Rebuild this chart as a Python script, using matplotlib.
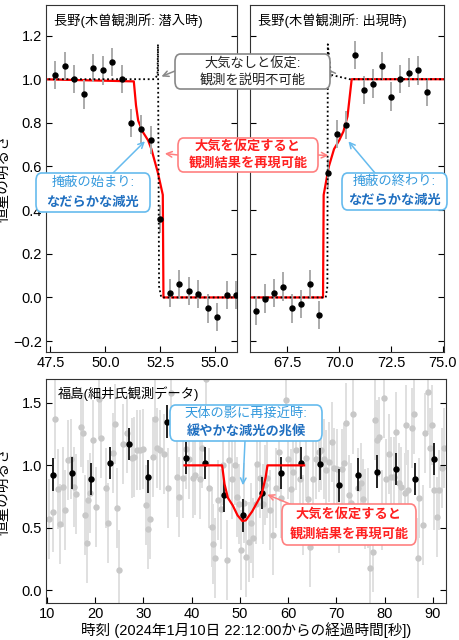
import matplotlib
matplotlib.use("Agg")
import matplotlib.pyplot as plt
from matplotlib.patches import FancyBboxPatch
import numpy as np

plt.rcParams['font.family'] = ['Liberation Sans', 'Noto Sans CJK JP', 'DejaVu Sans']

# ---- data: ingress (Kiso) ----
in_t = [47.71 + 0.435 * i for i in range(20)]
in_y = [1.02, 1.06, 1.0, 0.93, 1.05, 1.04, 1.08, 1.0, 0.80, 0.77, 0.72, 0.36,
        0.02, 0.06, 0.03, 0.015, -0.05, -0.09, 0.01, 0.01]
in_model_t = [47.0, 51.3, 51.4, 51.5, 51.7, 51.95, 52.1, 52.4, 52.62, 52.65, 56.5]
in_model_y = [1.0, 0.99, 0.88, 0.81, 0.76, 0.72, 0.68, 0.57, 0.47, 0.0, 0.0]
in_geo_t = [47.0, 52.25, 52.38, 52.40, 52.45, 52.55, 56.5]
in_geo_y = [1.0, 1.0, 1.02, 1.16, 0.05, 0.0, 0.0]

# ---- data: egress (Kiso) ----
eg_t = [65.98 + 0.435 * i for i in range(20)]
eg_y = [-0.06, -0.005, 0.02, 0.05, -0.05, -0.03, 0.06, -0.08, 0.57, 0.75, 0.79,
        1.11, 0.95, 0.98, 1.06, 0.92, 1.0, 1.03, 1.04, 0.94]
eg_model_t = [65.0, 69.22, 69.25, 69.5, 69.75, 70.0, 70.2, 70.4, 70.6, 76.0]
eg_model_y = [0.0, 0.0, 0.47, 0.6, 0.68, 0.72, 0.76, 0.83, 1.0, 1.0]
eg_geo_t = [65.0, 69.35, 69.43, 69.45, 69.6, 70.5, 76.0]
eg_geo_y = [0.0, 0.0, 0.05, 1.16, 1.02, 1.0, 1.0]

# ---- data: Fukushima ----
fk_t = [11.2 + 3.95 * i for i in range(21)]
fk_y = [0.925, 0.94, 0.89, 1.02, 1.17, 0.91, 1.35, 1.06, 1.02, 0.76, 0.60, 0.78,
        0.94, 1.02, 1.01, 0.84, 0.925, 0.95, 0.97, 0.89, 1.05]
fk_model_t = [38.5, 46.3, 46.8, 47.5, 48.5, 49.5, 50.5, 51.2, 52.5, 53.5, 54.5, 55.3, 55.7, 63.3]
fk_model_y = [1.0, 1.0, 0.85, 0.74, 0.68, 0.60, 0.555, 0.56, 0.63, 0.70, 0.77, 0.90, 1.0, 1.0]
raw_t = [10.4, 11.2, 11.7, 12.3, 12.8, 13.3, 13.8, 14.3, 14.9, 15.6, 16.1, 17.0, 17.4, 17.8,
         18.2, 18.6, 19.0, 19.6, 20.2, 20.8, 21.2, 22.3, 22.7, 23.6, 24.0, 24.5, 25.0, 25.8,
         26.5, 27.6, 28.1, 28.7, 29.2, 29.8, 30.5, 30.9, 31.3, 31.9, 32.4, 32.9, 33.4, 34.3,
         35.0, 35.8, 36.9, 37.4, 38.1, 38.8, 39.5, 40.2, 40.7, 41.7, 42.2, 42.9, 43.5, 44.1,
         44.4, 44.9, 45.5, 46.0, 46.5, 47.3, 47.8, 48.3, 48.9, 49.4, 49.9, 50.3, 50.9, 51.3,
         51.8, 52.2, 52.7, 53.3, 53.6, 54.2, 54.7, 55.2, 55.7, 56.3, 56.9, 57.4, 58.0, 58.6,
         59.6, 60.0, 60.6, 61.0, 61.7, 62.4, 63.0, 63.6, 64.1, 64.6, 65.2, 65.8, 66.4, 66.8,
         67.4, 67.9, 68.5, 69.0, 69.5, 70.1, 70.6, 71.1, 71.6, 72.0, 72.6, 73.0, 73.5, 74.4,
         75.1, 75.5, 75.9, 76.6, 77.0, 77.5, 77.9, 78.4, 78.9, 79.4, 79.9, 80.3, 80.8, 81.2,
         81.9, 82.4, 82.9, 83.4, 84.1, 84.4, 84.8, 85.7, 86.0, 86.8, 87.2, 87.9, 88.3, 88.9,
         89.4, 89.9, 90.3, 90.8, 91.2, 91.8, 92.2]
raw_y = [0.57, 0.63, 1.37, 0.81, 0.53, 0.83, 0.64, 1.04, 1.05, 0.83, 0.77, 1.31, 1.26, 0.60,
         0.38, 0.72, 0.78, 1.20, 0.67, 1.53, 1.22, 0.82, 0.54, 1.10, 1.33, 0.66, 0.16, 1.17,
         1.26, 1.06, 1.07, 1.12, 1.12, 1.13, 0.68, 0.49, 0.57, 1.07, 1.37, 1.14, 1.12, 1.09,
         0.82, 1.58, 0.91, 0.75, 0.90, 1.13, 1.05, 0.90, 0.92, 0.89, 1.14, 1.69, 0.82, 0.51,
         0.37, 0.26, 0.72, 0.65, 1.00, 0.24, 1.04, 0.89, 1.00, 0.75, 0.69, 0.32, 0.70, 0.27,
         0.39, 0.54, 0.42, 0.69, 1.01, 0.90, 0.69, 0.84, 0.90, 0.64, 0.44, 0.82, 1.11, 0.74,
         1.52, 1.05, 0.81, 0.95, 1.12, 0.89, 0.60, 1.06, 0.73, 0.35, 0.89, 1.05, 1.11, 1.12,
         1.05, 0.96, 1.03, 1.19, 0.98, 0.97, 0.62, 0.97, 1.02, 1.34, 0.76, 0.70, 1.41, 0.82,
         0.86, 0.73, 0.65, 0.66, 0.18, 0.31, 1.36, 1.20, 1.23, 0.64, 1.54, 0.89, 1.09, 0.91,
         0.91, 1.27, 0.86, 0.83, 0.78, 1.32, 0.80, 1.30, 1.41, 0.26, 0.74, 0.52, 1.26, 1.59,
         1.14, 1.32, 0.80, 0.59, 0.80, 0.98, 1.14]

W, H = 460, 640
fig = plt.figure(figsize=(4.6, 6.4), dpi=100)

def px(x0, y0, x1, y1):
    return [x0 / W, 1 - y1 / H, (x1 - x0) / W, (y1 - y0) / H]

ax1 = fig.add_axes(px(46, 5, 237, 352))
ax2 = fig.add_axes(px(250, 5, 444, 352))
ax3 = fig.add_axes(px(46, 379, 446, 603))

for ax in (ax1, ax2, ax3):
    ax.tick_params(direction='in', length=4, right=True, labelsize=10.5, pad=3)
    for s in ax.spines.values():
        s.set_color('#333333')

ekw = dict(fmt='o', color='black', ms=3.6, ecolor='#aaaaaa', elinewidth=1.4, capsize=0, zorder=3)
ax1.errorbar(in_t, in_y, yerr=0.065, **ekw)
ax1.plot(in_model_t, in_model_y, color='red', lw=1.6, zorder=2)
ax1.plot(in_geo_t, in_geo_y, color='black', ls=(0, (1, 1.5)), lw=1.3, zorder=4)
ax1.set_xlim(47.3, 56.0)
ax1.set_ylim(-0.25, 1.34)
ax1.set_xticks([47.5, 50.0, 52.5, 55.0])
ax1.set_yticks([-0.2, 0.0, 0.2, 0.4, 0.6, 0.8, 1.0, 1.2])
ax1.set_ylabel('恒星の明るさ', fontsize=10.5)
ax1.yaxis.set_label_coords(-0.185, 0.5)
ax1.text(0.04, 0.975, '長野(木曽観測所: 潜入時)', transform=ax1.transAxes, va='top', fontsize=9.5)

ax2.errorbar(eg_t, eg_y, yerr=0.065, **ekw)
ax2.plot(eg_model_t, eg_model_y, color='red', lw=1.6, zorder=2)
ax2.plot(eg_geo_t, eg_geo_y, color='black', ls=(0, (1, 1.5)), lw=1.3, zorder=4)
ax2.set_xlim(65.7, 75.05)
ax2.set_ylim(-0.25, 1.34)
ax2.set_xticks([67.5, 70.0, 72.5, 75.0])
ax2.set_yticks([-0.2, 0.0, 0.2, 0.4, 0.6, 0.8, 1.0, 1.2])
ax2.tick_params(labelleft=False)
ax2.text(0.04, 0.975, '長野(木曽観測所: 出現時)', transform=ax2.transAxes, va='top', fontsize=9.5)

ax3.errorbar(raw_t, raw_y, yerr=0.32, fmt='o', color='#c8c8c8', ms=3.6, ecolor='#e0e0e0',
             elinewidth=1.4, capsize=0, zorder=1)
ax3.errorbar(fk_t, fk_y, yerr=0.13, fmt='o', color='black', ms=3.6, ecolor='#222222',
             elinewidth=1.4, capsize=0, zorder=3)
ax3.plot(fk_model_t, fk_model_y, color='red', lw=1.6, zorder=4)
ax3.set_xlim(9.8, 92.7)
ax3.set_ylim(-0.1, 1.69)
ax3.set_xticks(range(10, 91, 10))
ax3.set_yticks([0.0, 0.5, 1.0, 1.5])
ax3.set_ylabel('恒星の明るさ', fontsize=10.5)
ax3.yaxis.set_label_coords(-0.088, 0.5)
ax3.set_xlabel('時刻 (2024年1月10日 22:12:00からの経過時間[秒])', fontsize=10.5, labelpad=1)
ax3.text(0.03, 0.965, '福島(細井氏観測データ)', transform=ax3.transAxes, va='top', fontsize=9.5)

def box(x0, y0, x1, y1, ec, lines):
    p = FancyBboxPatch((x0 / W, 1 - y1 / H), (x1 - x0) / W, (y1 - y0) / H,
                       boxstyle='round,pad=0,rounding_size=0.012', transform=fig.transFigure,
                       fc='white', ec=ec, lw=1.2, zorder=10)
    fig.patches.append(p)
    n = len(lines)
    for i, (txt, col, wt) in enumerate(lines):
        yc = y0 + (y1 - y0) * (i + 0.5) / n
        fig.text((x0 + x1) / 2 / W, 1 - yc / H, txt, color=col, fontweight=wt,
                 ha='center', va='center', fontsize=9.5, zorder=11)

def arrow(ax, xy, fx, fy, col):
    ax.annotate('', xy=xy, xycoords='data', xytext=(fx / W, 1 - fy / H),
                textcoords='figure fraction', annotation_clip=False,
                arrowprops=dict(arrowstyle='->', color=col, lw=1.1, shrinkA=0, shrinkB=1),
                zorder=9)

grey = '#888888'
box(175, 54, 330, 89, grey, [('大気なしと仮定:', '#222222', 'normal'), ('観測を説明不可能', '#222222', 'normal')])
arrow(ax1, (52.5, 1.01), 175, 71, grey)
arrow(ax2, (69.45, 1.05), 330, 71, grey)

red = '#ff2020'
box(178, 138, 318, 172, '#ff8080', [('大気を仮定すると', red, 'bold'), ('観測結果を再現可能', red, 'bold')])
arrow(ax1, (52.65, 0.66), 178, 155, '#ff8080')
arrow(ax2, (69.55, 0.65), 318, 155, '#ff8080')

blue_e = '#66bbee'
box(36, 173, 150, 212, blue_e, [('掩蔽の始まり:', '#3399dd', 'normal'), ('なだらかな減光', '#1f6fc0', 'bold')])
arrow(ax1, (51.85, 0.72), 113, 173, blue_e)
box(342, 173, 447, 210, blue_e, [('掩蔽の終わり:', '#3399dd', 'normal'), ('なだらかな減光', '#1f6fc0', 'bold')])
arrow(ax2, (70.4, 0.72), 375, 173, blue_e)

box(170, 405, 322, 441, blue_e, [('天体の影に再接近時:', '#3399dd', 'normal'), ('緩やかな減光の兆候', '#1f6fc0', 'bold')])
arrow(ax3, (50.6, 0.83), 245, 441, blue_e)
box(282, 504, 416, 545, '#ff8080', [('大気を仮定すると', red, 'bold'), ('観測結果を再現可能', red, 'bold')])
arrow(ax3, (55.4, 0.77), 290, 504, '#ff8080')

fig.savefig('out.png', dpi=100)
